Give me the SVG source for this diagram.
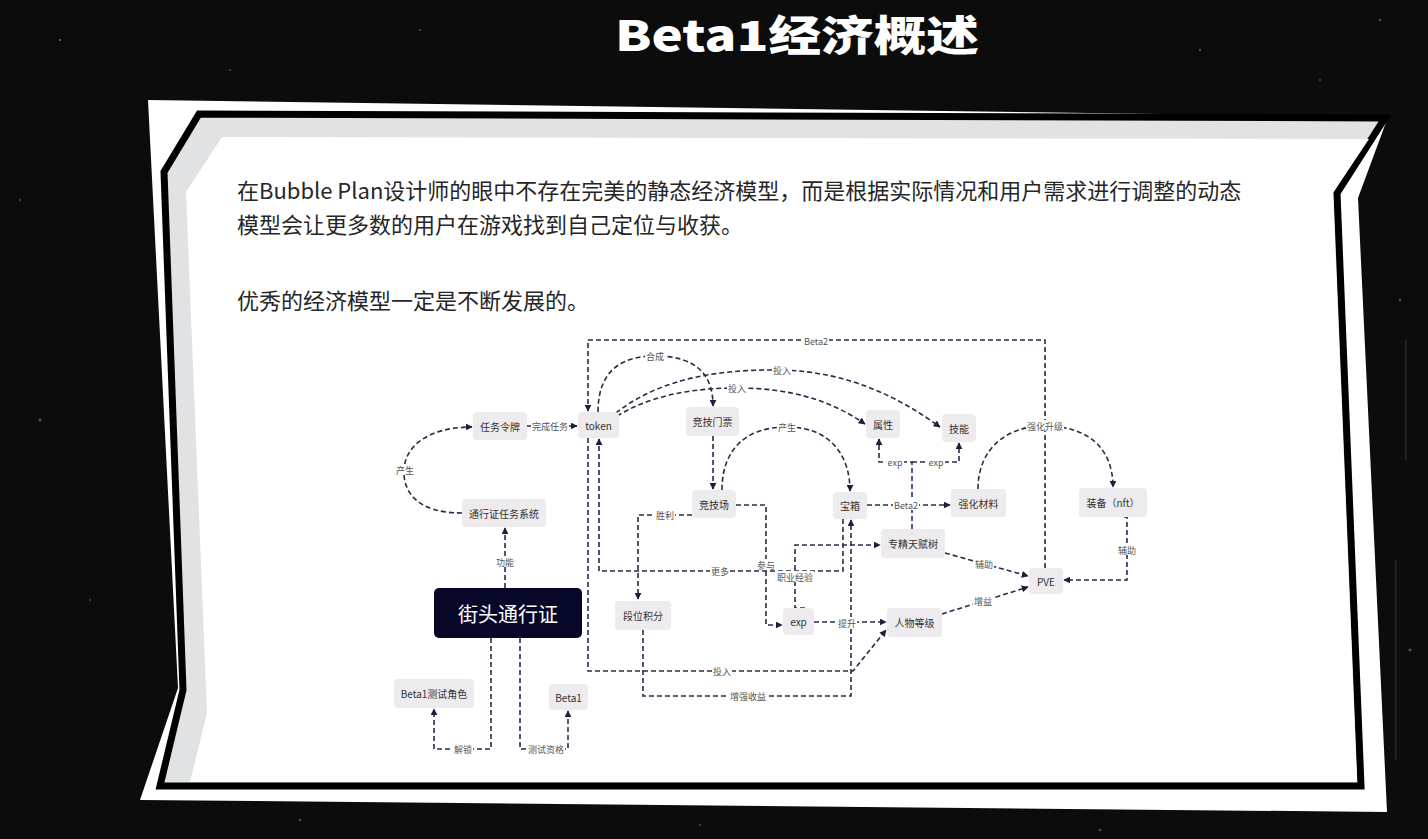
<svg xmlns="http://www.w3.org/2000/svg" width="1428" height="839" viewBox="0 0 1428 839">
<defs>
<style>
.nd rect{fill:#edebee}
.nd text{font-family:"Noto Sans CJK SC","Noto Sans",sans-serif;font-size:10px;fill:#333;text-anchor:middle;dominant-baseline:central}
.e path{fill:none;stroke:#2a2a48;stroke-width:1.6;stroke-dasharray:5 3}
.e .a{marker-end:url(#ah)}
.lb rect{fill:#fff}
.lb text{font-family:"Noto Sans CJK SC","Noto Sans",sans-serif;font-size:9px;fill:#555;text-anchor:middle;dominant-baseline:central}
.p{font-family:"Noto Sans CJK SC","Noto Sans",sans-serif;font-size:22px;fill:#262626}
.sp{fill:#9a9a9a}
</style>
<marker id="ah" viewBox="0 0 10 10" refX="9" refY="5" markerWidth="7" markerHeight="7" markerUnits="userSpaceOnUse" orient="auto"><path d="M0,0 L10,5 L0,10 z" fill="#1e1e3c"/></marker>
</defs>
<rect width="1428" height="839" fill="#0c0c0c"/>
<g class="sp" opacity="0.5">
<circle cx="60" cy="40" r="1.2"/><circle cx="230" cy="70" r="1"/><circle cx="420" cy="30" r="1"/><circle cx="1200" cy="50" r="1.2"/><circle cx="1320" cy="80" r="1"/><circle cx="40" cy="420" r="1.5"/><circle cx="90" cy="600" r="1"/><circle cx="1400" cy="300" r="1.2"/><circle cx="1410" cy="650" r="1.5"/><circle cx="300" cy="820" r="1.2"/><circle cx="700" cy="825" r="1"/><circle cx="1100" cy="830" r="1.3"/><circle cx="20" cy="200" r="1"/><circle cx="1380" cy="20" r="1.2"/>
<rect x="1405" y="340" width="1.5" height="120" opacity="0.4"/><rect x="1395" y="560" width="1.5" height="200" opacity="0.35"/>
</g>
<polygon points="148,100 870,110 1388,117 1358,198 1387,812 140,800 178,688" fill="#ffffff"/>
<polygon points="199,114 1385,118 1337,193 1361,786 160,786 183,690 164,172" fill="#e1e2e4" stroke="#000" stroke-width="7" stroke-linejoin="miter"/>
<polygon points="222,137 1369,139 1333,193 1357,782 190,782 207,713 186,192" fill="#ffffff"/>
<text x="797" y="51" font-family="'Noto Sans CJK SC','Noto Sans',sans-serif" font-size="42" font-weight="900" fill="#ffffff" text-anchor="middle" textLength="364" lengthAdjust="spacingAndGlyphs">Beta1经济概述</text>
<text class="p" x="237" y="199">在Bubble Plan设计师的眼中不存在完美的静态经济模型，而是根据实际情况和用户需求进行调整的动态</text>
<text class="p" x="237" y="233">模型会让更多数的用户在游戏找到自己定位与收获。</text>
<text class="p" x="237" y="309">优秀的经济模型一定是不断发展的。</text>
<g id="connectors" class="e">
<path d="M1045,568 L1045,340 L588,340 L588,411" class="a"/>
<path d="M598,412 C598,372 620,356 655,356 C698,356 713,376 713,406" class="a"/>
<path d="M616,413 C660,378 720,369 782,370 C850,372 900,398 940,427" class="a"/>
<path d="M617,416 C650,396 690,388 737,388 C790,388 830,400 865,424" class="a"/>
<path d="M527,426 L577,426" class="a"/>
<path d="M462,513 C415,513 403,490 404,470 C405,445 430,427 472,427" class="a"/>
<path d="M505,588 L505,528" class="a"/>
<path d="M491,638 L491,749 L434,749 L434,709" class="a"/>
<path d="M520,638 L520,749 L568,749 L568,711" class="a"/>
<path d="M713,436 L713,489" class="a"/>
<path d="M722,490 C722,450 745,427 787,427 C830,427 850,455 850,491" class="a"/>
<path d="M692,515 L638,515 L638,599" class="a"/>
<path d="M736,505 L766,505 L766,625 L782,625" class="a"/>
<path d="M843,519 L843,571 L599,571 L599,439" class="a"/>
<path d="M588,438 L588,671 L853,671 L886,630" class="a"/>
<path d="M643,630 L643,696 L851,696 L851,520" class="a"/>
<path d="M805,608 L795,608 L795,545 L880,545" class="a"/>
<path d="M814,622 L886,622" class="a"/>
<path d="M867,505 L950,505" class="a"/>
<path d="M912,529 L912,462 L879,462 L879,439"  class="a"/>
<path d="M912,462 L959,462 L959,443" class="a"/>
<path d="M978,489 C978,450 1005,426 1045,426 C1090,426 1113,450 1113,487" class="a"/>
<path d="M1124,517 L1127,517 L1127,580 L1064,580" class="a"/>
<path d="M945,553 L1028,576" class="a"/>
<path d="M942,614 L1028,587" class="a"/>
<g class="lb">
<rect x="803" y="335" width="26" height="11"/><text x="816" y="341">Beta2</text>
<rect x="645" y="350" width="20" height="11"/><text x="655" y="356">合成</text>
<rect x="772" y="364" width="20" height="11"/><text x="782" y="370">投入</text>
<rect x="727" y="382" width="20" height="11"/><text x="737" y="388">投入</text>
<rect x="531" y="420" width="38" height="11"/><text x="550" y="426">完成任务</text>
<rect x="395" y="464" width="20" height="11"/><text x="405" y="470">产生</text>
<rect x="495" y="556" width="20" height="11"/><text x="505" y="562">功能</text>
<rect x="453" y="743" width="20" height="11"/><text x="463" y="749">解锁</text>
<rect x="527" y="743" width="38" height="11"/><text x="546" y="749">测试资格</text>
<rect x="777" y="421" width="20" height="11"/><text x="787" y="427">产生</text>
<rect x="655" y="509" width="20" height="11"/><text x="665" y="515">胜利</text>
<rect x="756" y="559" width="20" height="11"/><text x="766" y="565">参与</text>
<rect x="710" y="565" width="20" height="11"/><text x="720" y="571">更多</text>
<rect x="712" y="665" width="20" height="11"/><text x="722" y="671">投入</text>
<rect x="729" y="690" width="38" height="11"/><text x="748" y="696">增强收益</text>
<rect x="776" y="571" width="38" height="11"/><text x="795" y="577">职业经验</text>
<rect x="837" y="617" width="20" height="11"/><text x="847" y="623">提升</text>
<rect x="893" y="499" width="26" height="11"/><text x="906" y="505">Beta2</text>
<rect x="886" y="456" width="18" height="11"/><text x="895" y="462">exp</text>
<rect x="927" y="456" width="18" height="11"/><text x="936" y="462">exp</text>
<rect x="1026" y="420" width="38" height="11"/><text x="1045" y="426">强化升级</text>
<rect x="1117" y="544" width="20" height="11"/><text x="1127" y="550">辅助</text>
<rect x="974" y="558" width="20" height="11"/><text x="984" y="564">辅助</text>
<rect x="973" y="595" width="20" height="11"/><text x="983" y="601">增益</text>
</g>
</g>
<g id="n-renwulingpai" class="nd"><rect x="473" y="412" width="54" height="28" rx="4"/><text x="500" y="426">任务令牌</text></g>
<g id="n-token" class="nd"><rect x="578" y="412" width="41" height="26" rx="4"/><text x="598.5" y="425">token</text></g>
<g id="n-tongxingzheng-renwu" class="nd"><rect x="462" y="499" width="84" height="28" rx="4"/><text x="504" y="513">通行证任务系统</text></g>
<g id="n-jingjimenpiao" class="nd"><rect x="686" y="407" width="53" height="29" rx="4"/><text x="712.5" y="421.5">竞技门票</text></g>
<g id="n-jingjichang" class="nd"><rect x="692" y="490" width="44" height="28" rx="4"/><text x="714" y="504">竞技场</text></g>
<g id="n-baoxiang" class="nd"><rect x="833" y="492" width="34" height="27" rx="4"/><text x="850" y="505.5">宝箱</text></g>
<g id="n-shuxing" class="nd"><rect x="866" y="410" width="34" height="28" rx="4"/><text x="883" y="424">属性</text></g>
<g id="n-jineng" class="nd"><rect x="942" y="414" width="34" height="28" rx="4"/><text x="959" y="428">技能</text></g>
<g id="n-qianghuacailiao" class="nd"><rect x="951" y="489" width="55" height="28" rx="4"/><text x="978.5" y="503">强化材料</text></g>
<g id="n-zhuangbei" class="nd"><rect x="1079" y="488" width="68" height="29" rx="4"/><text x="1113" y="502.5">装备（nft）</text></g>
<g id="n-zhuanjing" class="nd"><rect x="881" y="529" width="64" height="29" rx="4"/><text x="913" y="543.5">专精天赋树</text></g>
<g id="n-pve" class="nd"><rect x="1029" y="568" width="34" height="26" rx="4"/><text x="1046" y="581">PVE</text></g>
<g id="n-renwudengji" class="nd"><rect x="887" y="608" width="55" height="29" rx="4"/><text x="914.5" y="622.5">人物等级</text></g>
<g id="n-duanweijifen" class="nd"><rect x="615" y="601" width="56" height="29" rx="4"/><text x="643" y="615.5">段位积分</text></g>
<g id="n-exp" class="nd"><rect x="783" y="608" width="31" height="27" rx="4"/><text x="798.5" y="621.5">exp</text></g>
<g id="n-jietou"><rect x="434" y="588" width="148" height="50" rx="5" fill="#07072a"/><text x="508" y="613" font-family="'Noto Sans CJK SC','Noto Sans',sans-serif" font-size="20" fill="#ffffff" text-anchor="middle" dominant-baseline="central">街头通行证</text></g>
<g id="n-beta1-juese" class="nd"><rect x="394" y="679" width="80" height="29" rx="4"/><text x="434" y="693.5">Beta1测试角色</text></g>
<g id="n-beta1" class="nd"><rect x="549" y="684" width="39" height="26" rx="4"/><text x="568.5" y="697">Beta1</text></g>
</svg>
